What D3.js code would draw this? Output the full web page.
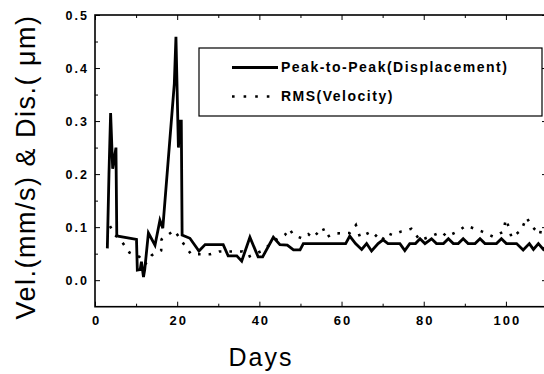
<!DOCTYPE html>
<html>
<head>
<meta charset="utf-8">
<script src="https://cdn.jsdelivr.net/npm/d3@7"></script>
<style>
  body { margin: 0; background: #fff; }
  svg { display: block; font-family: "Liberation Sans", Arial, sans-serif; }
  .tick text { font-size: 13px; font-weight: bold; letter-spacing: 2px; fill: #000; }
  .axis path, .axis line { stroke: #000; }
</style>
</head>
<body>
<svg width="544" height="374"></svg>
<script>
// Peak-to-Peak (Displacement), solid line
const ptpDays = [3.0, 3.4, 3.8, 4.3, 4.7, 5.1, 5.3, 5.6, 10.1, 10.3, 11.0, 11.3, 11.8, 12.1, 13.0, 14.6, 15.8, 16.5, 19.3, 19.7, 20.3, 20.7, 21.0, 21.2,
  23.1, 25.3, 26.8, 31.2, 32.4, 34.5, 35.7, 37.7, 39.7, 40.8, 43.4, 45.0, 46.8, 48.3, 49.9, 50.7, 61.0, 62.0, 63.4, 64.9, 66.1, 67.3, 68.9,
  70.1, 71.3, 74.2, 75.4, 76.6, 78.0, 79.1, 80.3, 81.9, 83.1, 84.8, 86.0, 87.2, 88.4, 89.6, 90.8, 92.5, 93.7, 94.9, 97.7, 98.9, 100.1,
  102.6, 104.2, 105.7, 106.7, 107.9, 109.1, 110.0];
const ptpValues = [0.06, 0.20, 0.315, 0.21, 0.23, 0.25, 0.085, 0.083, 0.077, 0.019, 0.02, 0.035, 0.006, 0.02, 0.089, 0.066, 0.113, 0.098, 0.37, 0.459, 0.25, 0.30, 0.30, 0.085,
  0.079, 0.055, 0.067, 0.067, 0.046, 0.046, 0.036, 0.081, 0.044, 0.044, 0.081, 0.067, 0.066, 0.057, 0.057, 0.069, 0.069, 0.083, 0.069, 0.058, 0.069, 0.055, 0.069,
  0.076, 0.069, 0.069, 0.056, 0.069, 0.069, 0.078, 0.069, 0.078, 0.069, 0.069, 0.078, 0.069, 0.069, 0.078, 0.069, 0.069, 0.078, 0.069, 0.069, 0.078, 0.069,
  0.069, 0.057, 0.069, 0.058, 0.069, 0.058, 0.066];

// RMS (Velocity), dotted line
const rmsDays = [3.65, 4.9, 6.4, 8.4, 10.8, 12.2, 13.8, 16.1, 16.2, 19.3, 21.8, 23.4, 28.0, 30.2, 35.9, 37.3, 40.6, 44.2, 46.2, 47.3, 48.3, 50.3,
  51.9, 53.0, 55.4, 56.4, 58.0, 62.0, 63.5, 64.5, 67.3, 69.7, 71.1, 72.4, 74.6, 75.8, 77.0, 79.1, 84.4, 85.6, 88.0, 89.2, 90.3, 94.1, 96.9,
  99.3, 100.0, 100.6, 101.4, 103.8, 105.0, 106.5, 108.3, 108.7];
const rmsValues = [0.102, 0.085, 0.074, 0.052, 0.044, 0.030, 0.047, 0.056, 0.077, 0.094, 0.066, 0.049, 0.049, 0.054, 0.054, 0.044, 0.055, 0.077, 0.085, 0.097, 0.085, 0.079,
  0.087, 0.080, 0.099, 0.081, 0.088, 0.089, 0.104, 0.081, 0.092, 0.074, 0.089, 0.085, 0.092, 0.094, 0.097, 0.075, 0.091, 0.082, 0.091, 0.097, 0.103, 0.092, 0.082,
  0.091, 0.115, 0.102, 0.080, 0.095, 0.118, 0.100, 0.086, 0.104];

const xMajorTicks = [0, 20, 40, 60, 80, 100];
const xMinorTicks = [10, 30, 50, 70, 90];
const yMajorTicks = [0.0, 0.1, 0.2, 0.3, 0.4, 0.5];
const yMinorTicks = [0.05, 0.15, 0.25, 0.35, 0.45];
const seriesNames = ["Peak-to-Peak(Displacement)", "RMS(Velocity)"];

let svg = d3.select("svg");
let plot = {left: 95, right: 547, top: 15, bottom: 306.7};

let x = d3.scaleLinear().domain([0, 110]).range([plot.left, plot.right]);
let y = d3.scaleLinear().domain([-0.05, 0.5]).range([plot.bottom, plot.top]);

// frame
svg.append("rect")
    .attr("x", plot.left).attr("y", plot.top)
    .attr("width", plot.right - plot.left).attr("height", plot.bottom - plot.top)
    .attr("fill", "none").attr("stroke", "#000").attr("stroke-width", 1.6);

// axes, ticks pointing inward
svg.append("g").attr("class", "axis")
    .attr("transform", "translate(0," + plot.bottom + ")")
    .call(d3.axisBottom(x).tickValues(xMajorTicks).tickSize(-5).tickPadding(9).tickFormat(d3.format("d")))
    .call(g => g.select(".domain").remove())
    .call(g => g.selectAll("text").attr("dx", "1px"));
svg.append("g").attr("class", "axis")
    .attr("transform", "translate(0," + plot.bottom + ")")
    .call(d3.axisBottom(x).tickValues(xMinorTicks).tickSize(-3).tickFormat(""))
    .call(g => g.select(".domain").remove());
svg.append("g").attr("class", "axis")
    .attr("transform", "translate(0," + plot.top + ")")
    .call(d3.axisTop(x).tickValues(xMajorTicks).tickSize(-5).tickFormat(""))
    .call(g => g.select(".domain").remove());
svg.append("g").attr("class", "axis")
    .attr("transform", "translate(0," + plot.top + ")")
    .call(d3.axisTop(x).tickValues(xMinorTicks).tickSize(-3).tickFormat(""))
    .call(g => g.select(".domain").remove());

svg.append("g").attr("class", "axis")
    .attr("transform", "translate(" + plot.left + ",0)")
    .call(d3.axisLeft(y).tickValues(yMajorTicks).tickSize(-5).tickPadding(6).tickFormat(d3.format(".1f")))
    .call(g => g.select(".domain").remove())
    .call(g => g.selectAll("text").style("font-size", "12.5px"));
svg.append("g").attr("class", "axis")
    .attr("transform", "translate(" + plot.left + ",0)")
    .call(d3.axisLeft(y).tickValues(yMinorTicks).tickSize(-3).tickFormat(""))
    .call(g => g.select(".domain").remove());
svg.append("g").attr("class", "axis")
    .attr("transform", "translate(" + plot.right + ",0)")
    .call(d3.axisRight(y).tickValues(yMajorTicks).tickSize(-5).tickFormat(""))
    .call(g => g.select(".domain").remove());
svg.append("g").attr("class", "axis")
    .attr("transform", "translate(" + plot.right + ",0)")
    .call(d3.axisRight(y).tickValues(yMinorTicks).tickSize(-3).tickFormat(""))
    .call(g => g.select(".domain").remove());

// axis titles
svg.append("text")
    .attr("x", 261).attr("y", 366)
    .attr("text-anchor", "middle")
    .style("font-size", "25px").style("letter-spacing", "2px")
    .text("Days");
svg.append("text")
    .attr("transform", "translate(35,167) rotate(-90)")
    .attr("text-anchor", "middle")
    .style("font-size", "27px").style("letter-spacing", "1.5px")
    .text("Vel.(mm/s) & Dis.( \u03bcm)");

// series
let ptpData = ptpDays.map((d, i) => [d, ptpValues[i]]);
let rmsData = rmsDays.map((d, i) => [d, rmsValues[i]]);
let line = d3.line().x(d => x(d[0])).y(d => y(d[1]));

svg.append("path")
    .datum(rmsData)
    .attr("d", line)
    .attr("fill", "none").attr("stroke", "#000")
    .attr("stroke-width", 2.6)
    .attr("stroke-dasharray", "2.6,8");

svg.append("path")
    .datum(ptpData)
    .attr("d", line)
    .attr("fill", "none").attr("stroke", "#000")
    .attr("stroke-width", 2.8)
    .attr("stroke-linejoin", "miter");

// legend
let legend = svg.append("g");
legend.append("rect")
    .attr("x", 199).attr("y", 48).attr("width", 343).attr("height", 68)
    .attr("fill", "#fff").attr("stroke", "#000").attr("stroke-width", 1.2);
legend.append("line")
    .attr("x1", 232).attr("x2", 278).attr("y1", 67.5).attr("y2", 67.5)
    .attr("stroke", "#000").attr("stroke-width", 2.8);
legend.append("line")
    .attr("x1", 232).attr("x2", 278).attr("y1", 96.5).attr("y2", 96.5)
    .attr("stroke", "#000").attr("stroke-width", 2.6)
    .attr("stroke-dasharray", "2.6,9");
legend.selectAll(".lbl")
    .data(seriesNames)
    .enter().append("text")
    .attr("x", 281)
    .attr("y", (d, i) => 72 + i * 28.5)
    .style("font-size", "14px").style("font-weight", "bold").style("letter-spacing", "1.5px")
    .text(d => d);
</script>
</body>
</html>
